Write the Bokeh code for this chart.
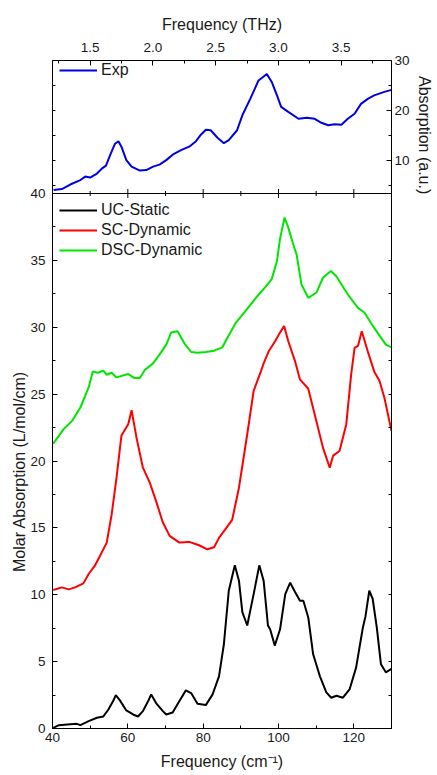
from bokeh.plotting import figure
from bokeh.models import (Range1d, LinearAxis, FixedTicker, SingleIntervalTicker,
                          Legend, LegendItem, Span, NumeralTickFormatter, Title)
from bokeh.embed import file_html
from bokeh.resources import INLINE
import math

# ---------------- data ----------------
# Experimental spectrum (top panel), x in cm^-1, y in a.u.
exp_x = [40.3, 42.5, 44.7, 47.4, 48.7, 50.0, 51.8, 53.1, 54.2, 55.3, 56.6, 57.5, 58.3, 59.6,
         61.0, 63.2, 64.9, 66.7, 68.4, 70.2, 71.9, 74.1, 76.3, 78.1, 79.4, 80.7, 82.0, 83.8,
         85.5, 86.8, 89.0, 90.4, 92.5, 94.7, 95.9, 96.9, 98.2, 99.6, 100.7, 102.6, 105.3,
         107.5, 109.6, 111.4, 113.2, 114.9, 116.7, 118.4, 120.2, 121.9, 123.7, 125.4, 128.1, 130.0]
exp_y = [4.0, 4.2, 5.1, 6.0, 6.7, 6.5, 7.3, 8.3, 8.9, 11.0, 13.3, 13.8, 12.7, 10.0,
         8.7, 7.9, 8.0, 8.7, 9.1, 10.0, 11.1, 12.0, 12.7, 13.8, 15.1, 16.1, 16.0, 14.5,
         13.4, 14.0, 16.0, 19.0, 22.3, 26.0, 26.7, 27.3, 25.7, 23.0, 20.7, 19.7, 18.3,
         18.5, 18.3, 17.5, 17.0, 17.2, 17.1, 18.3, 19.3, 21.3, 22.3, 23.0, 23.7, 24.1]

# UC-Static (black)
uc_x = [40.2, 41.7, 43.9, 46.5, 47.4, 49.6, 51.8, 53.5, 54.8, 56.1, 56.8, 57.9, 59.6, 61.4,
        62.7, 64.0, 65.4, 66.2, 67.5, 69.3, 70.2, 71.9, 73.7, 75.4, 76.8, 78.5, 80.7, 82.5,
        84.2, 85.5, 86.8, 88.4, 89.5, 90.4, 91.7, 93.4, 94.9, 96.05, 97.2, 97.8, 99.0, 100.4,
        101.8, 103.1, 104.4, 105.7, 106.6, 107.9, 109.2, 111.0, 112.7, 114.0, 115.4, 117.1,
        118.9, 120.6, 122.4, 123.1, 124.1, 125.0, 126.1, 127.2, 128.5, 130.0]
uc_y = [0.05, 0.25, 0.3, 0.35, 0.25, 0.55, 0.8, 0.9, 1.4, 2.05, 2.5, 2.1, 1.35, 1.05,
        0.9, 1.3, 2.05, 2.55, 1.9, 1.3, 1.05, 1.2, 2.05, 2.85, 2.65, 1.85, 1.75, 2.55,
        3.9, 6.3, 10.3, 12.2, 11.05, 8.7, 7.7, 10.05, 12.2, 11.05, 7.7, 7.4, 6.2, 7.4,
        10.05, 10.9, 10.2, 9.55, 9.55, 8.3, 5.55, 3.9, 2.7, 2.3, 2.45, 2.3,
        2.95, 4.55, 7.55, 8.4, 10.3, 9.7, 7.55, 4.8, 4.2, 4.45]

# SC-Dynamic (red)
sc_x = [40.2, 42.5, 44.3, 46.0, 48.2, 49.6, 51.3, 52.6, 54.4, 55.7, 57.0, 58.3, 60.1, 61.0,
        62.3, 64.0, 65.8, 67.5, 69.3, 71.1, 73.7, 76.3, 78.9, 81.1, 82.9, 84.2, 86.4, 87.7,
        89.5, 91.7, 93.4, 95.2, 96.05, 97.4, 99.1, 100.4, 101.5, 102.6, 104.4, 105.7, 107.9,
        109.6, 111.8, 113.6, 114.5, 116.2, 118.0, 119.3, 120.2, 121.1, 122.1, 123.7, 125.4,
        126.8, 128.1, 130.0]
sc_y = [10.35, 10.55, 10.4, 10.55, 10.85, 11.55, 12.2, 12.9, 13.9, 16.0, 18.75, 21.9, 22.75, 23.8,
        21.75, 19.5, 18.4, 17.0, 15.4, 14.4, 13.9, 13.95, 13.7, 13.4, 13.55, 14.25, 15.1, 15.6,
        18.0, 22.0, 25.25, 26.6, 27.3, 28.2, 28.95, 29.6, 30.1, 28.95, 27.45, 26.1, 25.4,
        23.5, 21.0, 19.5, 20.4, 20.75, 22.75, 26.5, 28.45, 28.6, 29.7, 28.2, 26.7,
        26.0, 24.75, 22.25]

# DSC-Dynamic (green)
dsc_x = [40.2, 43.0, 45.2, 47.4, 49.6, 50.7, 52.0, 53.5, 54.4, 55.7, 57.0, 60.1, 61.8, 63.2,
         64.5, 66.7, 68.4, 70.2, 71.5, 73.2, 75.0, 76.8, 78.5, 80.7, 82.9, 85.1, 86.4, 88.6,
         91.2, 94.3, 96.5, 98.2, 99.6, 100.4, 101.6, 102.6, 103.9, 104.8, 106.1, 107.9, 110.1,
         111.8, 113.9, 115.4, 118.4, 121.1, 122.8, 125.4, 128.5, 130.0]
dsc_y = [21.3, 22.4, 23.0, 24.0, 25.5, 26.7, 26.6, 26.75, 26.45, 26.6, 26.25, 26.5, 26.2, 26.2,
         26.8, 27.3, 27.95, 28.7, 29.6, 29.7, 28.8, 28.15, 28.1, 28.15, 28.25, 28.5, 29.2, 30.3,
         31.2, 32.3, 33.0, 33.6, 34.95, 36.6, 38.2, 37.45, 36.2, 35.45, 33.2, 32.2, 32.6,
         33.7, 34.2, 33.8, 32.45, 31.45, 31.1, 29.95, 28.7, 28.5]

series_labels = ["UC-Static", "SC-Dynamic", "DSC-Dynamic"]
exp_label = "Exp"
left_title = "Molar Absorption (L/mol/cm)"
right_title = "Absorption (a.u.)"

# axis ticks
y_major = [0, 5, 10, 15, 20, 25, 30, 35, 40]
y_minor = [2.5, 7.5, 12.5, 17.5, 22.5, 27.5, 32.5, 37.5]
exp_major = [10, 20, 30]
exp_minor = [5, 15, 25]
boundary_major = [60, 80, 100, 120]
boundary_minor = [50, 70, 90, 110]

X_START, X_END = 40, 130
MOLAR_MAX = 40
EXP_LO, EXP_HI = 3.3, 30
CM_PER_THZ = 33.33   # conversion used by the original top axis

# ---------------- layout (styles) ----------------
W, H = 437, 774
BL, BR, BT, BB = 52, 43, 60, 46
TOP_PX = 133
FRAME_W = W - BL - BR
FRAME_H = H - BT - BB
BOT_PX = FRAME_H - TOP_PX
FONT = "Liberation Sans"
TXT = "#1a1a1a"

y_end = MOLAR_MAX + MOLAR_MAX * TOP_PX / BOT_PX
exp_per_unit = (EXP_HI - EXP_LO) / (y_end - MOLAR_MAX)
exp_start = EXP_LO - MOLAR_MAX * exp_per_unit


def main_to_exp(v):
    return exp_start + v * exp_per_unit


def exp_to_main(v):
    return (v - exp_start) / exp_per_unit


p = figure(width=W, height=H, x_range=Range1d(X_START, X_END), y_range=Range1d(0, y_end),
           output_backend="svg", toolbar_location=None,
           x_axis_location=None, y_axis_location=None,
           min_border_left=BL, min_border_right=BR, min_border_top=BT, min_border_bottom=BB)
p.extra_y_ranges = {"exp": Range1d(exp_start, EXP_HI)}
p.extra_x_ranges = {"thz": Range1d(X_START / CM_PER_THZ, X_END / CM_PER_THZ)}
p.grid.visible = False
p.outline_line_color = "black"
p.outline_line_width = 1
p.background_fill_color = "white"
p.border_fill_color = "white"


def style_axis(ax):
    ax.major_tick_in = 5
    ax.major_tick_out = 0
    ax.minor_tick_in = 3
    ax.minor_tick_out = 0
    ax.axis_line_color = "black"
    ax.major_tick_line_color = "black"
    ax.minor_tick_line_color = "black"
    ax.major_label_text_font = FONT
    ax.major_label_text_font_size = "13.5px"
    ax.major_label_text_color = TXT
    ax.axis_label_text_font = FONT
    ax.axis_label_text_font_size = "16px"
    ax.axis_label_text_font_style = "normal"
    ax.axis_label_text_color = TXT


def side_title(text, offset, vertical_align, standoff):
    return Title(text=text, align="left", offset=offset, vertical_align=vertical_align,
                 standoff=standoff, text_font=FONT, text_font_size="16px",
                 text_font_style="normal", text_color=TXT)


# left: bottom-panel ticks (labelled) plus mirror ticks of top panel as minor ticks
left_ax = LinearAxis(ticker=FixedTicker(ticks=y_major,
                                        minor_ticks=y_minor + [exp_to_main(v) for v in exp_major[:2] + exp_minor]))
style_axis(left_ax)
left_ax.major_label_standoff = 7
p.add_layout(left_ax, "left")
# title centred on the bottom panel
p.add_layout(side_title(left_title, BOT_PX / 2 - 111, "bottom", -1), "left")

# right: top-panel absorption axis plus mirror ticks of bottom panel as minor ticks
right_ax = LinearAxis(y_range_name="exp",
                      ticker=FixedTicker(ticks=exp_major,
                                         minor_ticks=exp_minor + [main_to_exp(v) for v in y_major[:-1] + y_minor]))
style_axis(right_ax)
right_ax.major_label_standoff = 3
p.add_layout(right_ax, "right")
# title centred on the top panel
p.add_layout(side_title(right_title, TOP_PX / 2 - 51, "bottom", 6), "right")

# bottom: cm^-1
bot_ax = LinearAxis(ticker=SingleIntervalTicker(interval=20, num_minor_ticks=2),
                    axis_label="Frequency (cm\u207b\u00b9)")
style_axis(bot_ax)
bot_ax.major_label_standoff = 4
bot_ax.axis_label_standoff = 8
p.add_layout(bot_ax, "below")

# top: THz
top_ax = LinearAxis(x_range_name="thz", ticker=SingleIntervalTicker(interval=0.5, num_minor_ticks=2),
                    axis_label="Frequency (THz)", formatter=NumeralTickFormatter(format="0.0"))
style_axis(top_ax)
top_ax.major_label_standoff = 9
top_ax.axis_label_standoff = 7
p.add_layout(top_ax, "above")

# separator between panels
p.add_layout(Span(location=MOLAR_MAX, dimension="width", line_color="black", line_width=1))
p.scatter(boundary_major, [MOLAR_MAX] * len(boundary_major), marker="dash", angle=math.pi / 2,
          size=9, line_color="black", line_width=1)
p.scatter(boundary_minor, [MOLAR_MAX] * len(boundary_minor), marker="dash", angle=math.pi / 2,
          size=5, line_color="black", line_width=1)

# curves
r_uc = p.line(uc_x, uc_y, line_color="black", line_width=2)
r_sc = p.line(sc_x, sc_y, line_color="#ff0000", line_width=2)
r_dsc = p.line(dsc_x, dsc_y, line_color="#00e600", line_width=2)
r_exp = p.line(exp_x, exp_y, line_color="#0000e6", line_width=2, y_range_name="exp")


def make_legend(items, loc):
    lg = Legend(items=items, location=loc)
    lg.border_line_color = None
    lg.background_fill_alpha = 0
    lg.glyph_width = 38
    lg.glyph_height = 20
    lg.label_height = 20
    lg.label_standoff = 4
    lg.spacing = 0
    lg.padding = 0
    lg.margin = 0
    lg.label_text_font = FONT
    lg.label_text_font_size = "16px"
    lg.label_text_color = TXT
    return lg


leg_main = make_legend([LegendItem(label=series_labels[0], renderers=[r_uc]),
                        LegendItem(label=series_labels[1], renderers=[r_sc]),
                        LegendItem(label=series_labels[2], renderers=[r_dsc])],
                       (7, BOT_PX - 7 - 60))
leg_exp = make_legend([LegendItem(label=exp_label, renderers=[r_exp])], (7, FRAME_H - 20))
p.add_layout(leg_main, "center")
p.add_layout(leg_exp, "center")

open("out.html", "w").write(file_html(p, INLINE))
